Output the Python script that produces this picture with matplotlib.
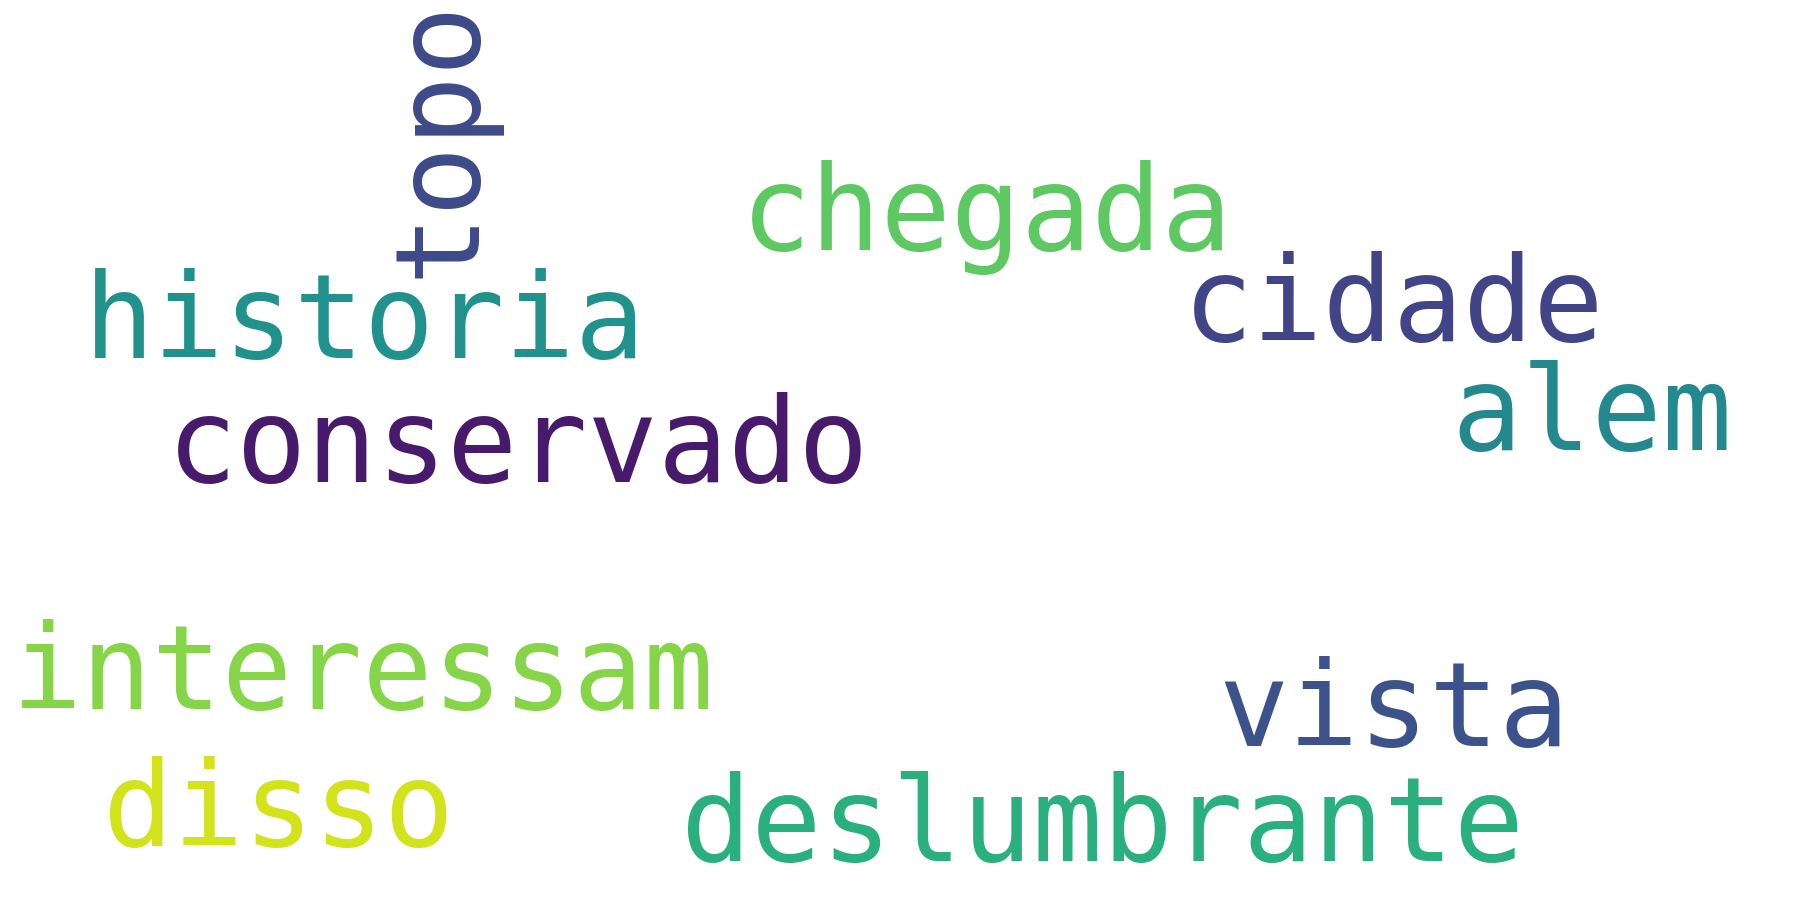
import matplotlib as mpl
mpl.use('Agg')
import matplotlib.pyplot as plt

# word cloud content
words = ['topo', 'chegada', 'historia', 'cidade', 'alem', 'conservado',
         'interessam', 'vista', 'disso', 'deslumbrante']
colors = ['#3e4a89', '#5ec962', '#21918c', '#414487', '#23898e', '#481a6c',
          '#86d549', '#3b528b', '#d2e21b', '#2ab07f']

# layout (reference pixel frame 1568 x 784), left x / baseline y
xpos = [412, 645, 73, 1030, 1264, 145, 10, 1061, 90, 593]
ypos = [242, 218, 312, 297, 392, 420, 618, 650, 737, 750]
rot = [90, 0, 0, 0, 0, 0, 0, 0, 0, 0]

fig = plt.figure(figsize=(18, 9), dpi=100)
ax = fig.add_axes([0, 0, 1, 1])
ax.set_xlim(0, 1568)
ax.set_ylim(784, 0)
ax.axis('off')

for w, c, x, y, r in zip(words, colors, xpos, ypos, rot):
    ax.text(x, y, w, color=c, fontsize=84, family='DejaVu Sans Mono',
            rotation=r, ha='left', va='baseline', rotation_mode='anchor')

fig.savefig('out.png', dpi=100, facecolor='white')
